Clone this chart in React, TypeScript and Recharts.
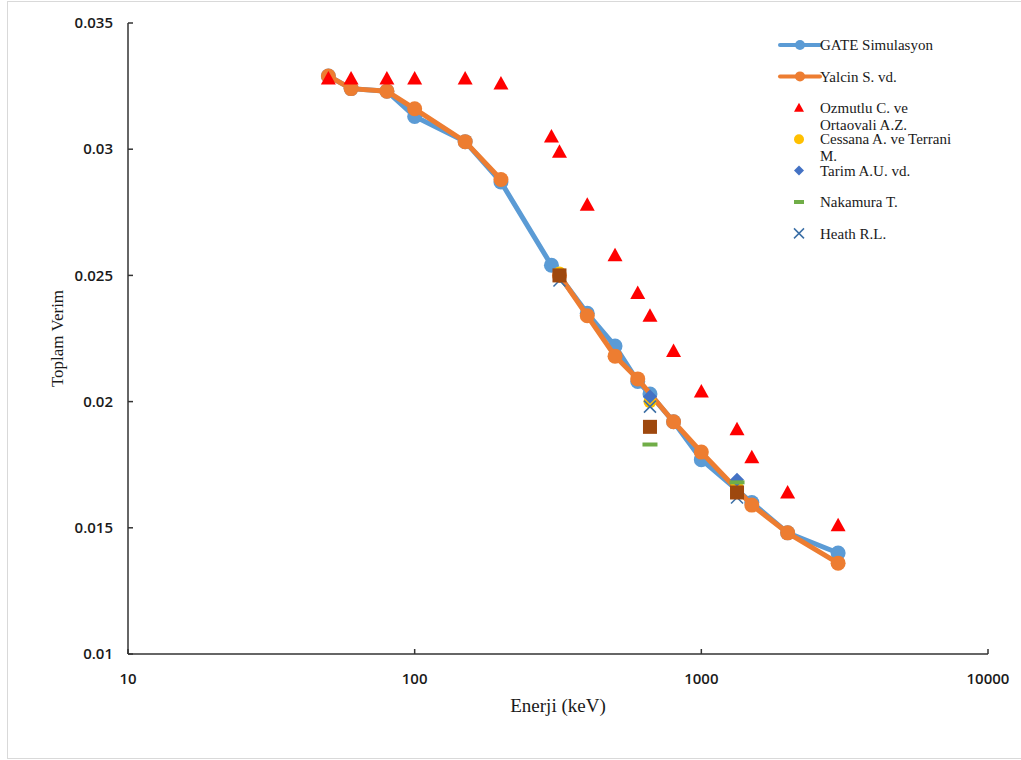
import { ScatterChart, Scatter, XAxis, YAxis, Legend, Label } from 'recharts';

const energyTicks = [10, 100, 1000, 10000];
const efficiencyTicks = [0.01, 0.015, 0.02, 0.025, 0.03, 0.035];

// GATE simulation
const gateEnergy = [50, 60, 80, 100, 150, 200, 300, 400, 500, 600, 662, 800, 1000, 1500, 2000, 3000];
const gateEff = [0.0329, 0.0324, 0.0323, 0.0313, 0.0303, 0.0287, 0.0254, 0.0235, 0.0222, 0.0208, 0.0203, 0.0192, 0.0177, 0.016, 0.0148, 0.014];

// Yalcin S. vd. (gap between 200 and 320 keV)
const yalcinEnergyA = [50, 60, 80, 100, 150, 200];
const yalcinEffA = [0.0329, 0.0324, 0.0323, 0.0316, 0.0303, 0.0288];
const yalcinEnergyB = [320, 400, 500, 600, 800, 1000, 1500, 2000, 3000];
const yalcinEffB = [0.025, 0.0234, 0.0218, 0.0209, 0.0192, 0.018, 0.0159, 0.0148, 0.0136];

const ozmutluEnergy = [50, 60, 80, 100, 150, 200, 300, 320, 400, 500, 600, 662, 800, 1000, 1332, 1500, 2000, 3000];
const ozmutluEff = [0.0328, 0.0328, 0.0328, 0.0328, 0.0328, 0.0326, 0.0305, 0.0299, 0.0278, 0.0258, 0.0243, 0.0234, 0.022, 0.0204, 0.0189, 0.0178, 0.0164, 0.0151];

const refEnergy = [320, 662, 1332];
const cessanaEff = [0.0251, 0.02, 0.0166];
const heathEff = [0.0248, 0.0198, 0.0162];
const otherEff = [0.025, 0.019, 0.0164];

const tarimEnergy = [662, 1332];
const tarimEff = [0.0202, 0.0169];
const nakamuraEnergy = [662, 1332];
const nakamuraEff = [0.0183, 0.0168];

const BLUE = '#5B9BD5';
const ORANGE = '#ED7D31';
const RED = '#FF0000';
const YELLOW = '#FFC000';
const DBLUE = '#4472C4';
const GREEN = '#70AD47';
const XBLUE = '#3A6EA5';
const BROWN = '#9E480E';

const zip = (xs: number[], ys: number[]) => xs.map((x, i) => ({ x, y: ys[i] }));

const serif = '"Liberation Serif", "DejaVu Serif", serif';
const sans = '"Open Sans", "Liberation Sans", sans-serif';

type Kind = 'circle' | 'triangle' | 'diamond' | 'dash' | 'cross' | 'square';

function marker(kind: Kind, cx: number, cy: number, color: string, s: number) {
  switch (kind) {
    case 'circle':
      return <circle cx={cx} cy={cy} r={s} fill={color} />;
    case 'triangle':
      return (
        <polygon
          points={`${cx},${cy - s} ${cx - s},${cy + s * 0.8} ${cx + s},${cy + s * 0.8}`}
          fill={color}
        />
      );
    case 'diamond':
      return (
        <polygon points={`${cx},${cy - s} ${cx + s},${cy} ${cx},${cy + s} ${cx - s},${cy}`} fill={color} />
      );
    case 'dash':
      return <rect x={cx - s} y={cy - 2} width={s * 2} height={4} fill={color} />;
    case 'cross':
      return (
        <g stroke={color} strokeWidth={1.5}>
          <line x1={cx - s} y1={cy - s} x2={cx + s} y2={cy + s} />
          <line x1={cx - s} y1={cy + s} x2={cx + s} y2={cy - s} />
        </g>
      );
    default:
      return <rect x={cx - s} y={cy - s} width={s * 2} height={s * 2} fill={color} />;
  }
}

const shapeOf = (kind: Kind, color: string, s: number) => (p: any) => marker(kind, p.cx, p.cy, color, s);

function YTick({ x, y, payload }: any) {
  return (
    <g>
      <line x1={x + 15} x2={x + 20} y1={y} y2={y} stroke="#333" strokeWidth={1.5} />
      <text x={x} y={y} dy="0.35em" textAnchor="end" fontFamily={sans} fontWeight={600} fontSize={15} fill="#1a1a1a">
        {String(payload.value)}
      </text>
    </g>
  );
}

function XTick({ x, y, payload }: any) {
  return (
    <g>
      <line x1={x} x2={x} y1={y - 25} y2={y - 30} stroke="#333" strokeWidth={1.5} />
      <text x={x} y={y} dy="0.35em" textAnchor="middle" fontFamily={sans} fontWeight={600} fontSize={15} fill="#1a1a1a">
        {String(payload.value)}
      </text>
    </g>
  );
}

const legendItems: { lines: string[]; kind: Kind | 'line'; color: string }[] = [
  { lines: ['GATE Simulasyon'], kind: 'line', color: BLUE },
  { lines: ['Yalcin S. vd.'], kind: 'line', color: ORANGE },
  { lines: ['Ozmutlu C. ve', 'Ortaovali A.Z.'], kind: 'triangle', color: RED },
  { lines: ['Cessana A. ve Terrani', 'M.'], kind: 'circle', color: YELLOW },
  { lines: ['Tarim A.U. vd.'], kind: 'diamond', color: DBLUE },
  { lines: ['Nakamura T.'], kind: 'dash', color: GREEN },
  { lines: ['Heath R.L.'], kind: 'cross', color: XBLUE },
];

function LegendBox() {
  return (
    <svg width={250} height={240}>
      {legendItems.map((it, i) => {
        const cy = 25 + i * 31.4;
        return (
          <g key={it.lines[0]}>
            {it.kind === 'line' ? (
              <g>
                <line x1={10} x2={50} y1={cy} y2={cy} stroke={it.color} strokeWidth={4} strokeLinecap="round" />
                <circle cx={30} cy={cy} r={5} fill={it.color} />
              </g>
            ) : (
              marker(it.kind, 29, cy, it.color, it.kind === 'dash' ? 5 : 5)
            )}
            {it.lines.map((t, j) => (
              <text key={t} x={50} y={cy + j * 17} dy="0.35em" fontFamily={serif} fontSize={15} fill="#1a1a1a">
                {t}
              </text>
            ))}
          </g>
        );
      })}
    </svg>
  );
}

function YTitle(props: any) {
  const vb = props.viewBox || { y: 23, height: 631 };
  const cx = 57;
  const cy = vb.y + vb.height / 2;
  return (
    <text x={cx} y={cy} transform={`rotate(-90, ${cx}, ${cy})`} textAnchor="middle" dy="0.35em" fontFamily={serif} fontSize={17} fill="#1a1a1a">
      Toplam Verim
    </text>
  );
}

function XTitle(props: any) {
  const vb = props.viewBox || { x: 128, width: 860, y: 654 };
  return (
    <text x={vb.x + vb.width / 2} y={705} textAnchor="middle" dy="0.35em" fontFamily={serif} fontSize={19} fill="#1a1a1a">
      Enerji (keV)
    </text>
  );
}

export default function App() {
  return (
    <div style={{ position: 'absolute', left: 0, top: 0, width: 1021, height: 760, background: '#fff', overflow: 'hidden' }}>
      <div
        style={{
          position: 'absolute',
          left: 7,
          top: 1,
          width: 1030,
          height: 756,
          borderLeft: '1px solid #d9d9d9',
          borderTop: '1px solid #d9d9d9',
          borderBottom: '1px solid #d9d9d9',
        }}
      />
      <ScatterChart width={1021} height={760} margin={{ top: 23, right: 33, bottom: 46, left: 0 }}>
        <XAxis
          type="number"
          dataKey="x"
          scale="log"
          domain={[10, 10000]}
          ticks={energyTicks}
          allowDataOverflow
          height={60}
          tickSize={0}
          tickMargin={25}
          tick={<XTick />}
          axisLine={{ stroke: '#333', strokeWidth: 1.5 }}
        >
          <Label content={<XTitle />} />
        </XAxis>
        <YAxis
          type="number"
          dataKey="y"
          domain={[0.01, 0.035]}
          ticks={efficiencyTicks}
          allowDataOverflow
          width={128}
          tickSize={0}
          tickMargin={15}
          tick={<YTick />}
          axisLine={{ stroke: '#333', strokeWidth: 1.5 }}
        >
          <Label content={<YTitle />} />
        </YAxis>
        <Legend
          layout="horizontal"
          verticalAlign="middle"
          wrapperStyle={{ left: 770, top: 20, width: 250, height: 240 }}
          content={<LegendBox />}
        />
        <Scatter
          name="GATE Simulasyon"
          data={zip(gateEnergy, gateEff)}
          line={{ stroke: BLUE, strokeWidth: 5 }}
          lineType="joint"
          shape={shapeOf('circle', BLUE, 7.5)}
          isAnimationActive={false}
        />
        <Scatter
          name="Yalcin S. vd."
          data={zip(yalcinEnergyA, yalcinEffA)}
          line={{ stroke: ORANGE, strokeWidth: 5 }}
          lineType="joint"
          shape={shapeOf('circle', ORANGE, 7.5)}
          isAnimationActive={false}
        />
        <Scatter
          name="Yalcin S. vd. (2)"
          data={zip(yalcinEnergyB, yalcinEffB)}
          line={{ stroke: ORANGE, strokeWidth: 5 }}
          lineType="joint"
          shape={shapeOf('circle', ORANGE, 7.5)}
          isAnimationActive={false}
        />
        <Scatter name="Ozmutlu C. ve Ortaovali A.Z." data={zip(ozmutluEnergy, ozmutluEff)} shape={shapeOf('triangle', RED, 7.5)} isAnimationActive={false} />
        <Scatter name="Cessana A. ve Terrani M." data={zip(refEnergy, cessanaEff)} shape={shapeOf('circle', YELLOW, 6.5)} isAnimationActive={false} />
        <Scatter name="Tarim A.U. vd." data={zip(tarimEnergy, tarimEff)} shape={shapeOf('diamond', DBLUE, 7)} isAnimationActive={false} />
        <Scatter name="Nakamura T." data={zip(nakamuraEnergy, nakamuraEff)} shape={shapeOf('dash', GREEN, 7.5)} isAnimationActive={false} />
        <Scatter name="Heath R.L." data={zip(refEnergy, heathEff)} shape={shapeOf('cross', XBLUE, 6)} isAnimationActive={false} />
        <Scatter name="Diger" data={zip(refEnergy, otherEff)} shape={shapeOf('square', BROWN, 7)} isAnimationActive={false} />
      </ScatterChart>
    </div>
  );
}
